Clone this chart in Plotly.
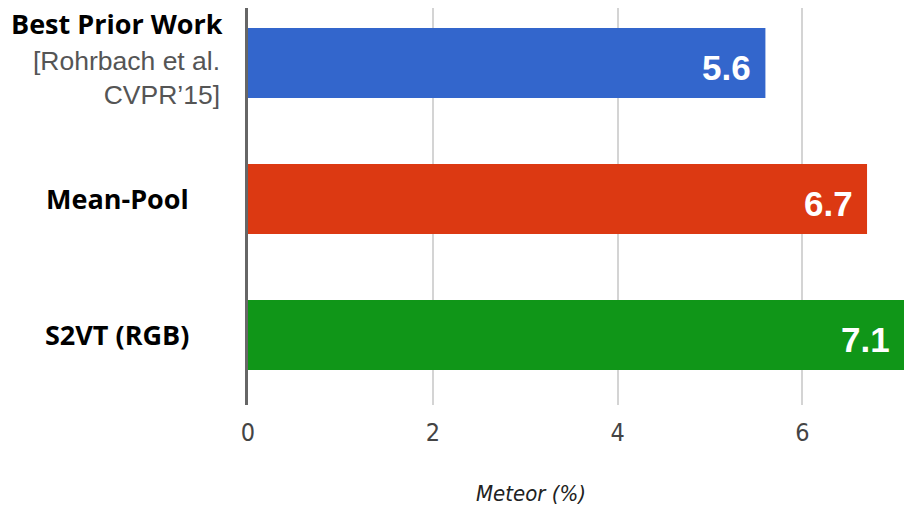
import plotly.graph_objects as go

# Meteor scores (%) for each captioning method
methods = ["Best Prior Work", "Mean-Pool", "S2VT (RGB)"]
meteor = [5.6, 6.7, 7.1]
bar_colors = ["#3366CC", "#DC3912", "#109618"]
x_ticks = [0, 2, 4, 6]
citation = "[Rohrbach et al.<br>CVPR’15]"

W, H = 904, 506
L, R, T, B = 248, 0, 8, 101
plot_w = W - L - R

NARROW = "Liberation Sans Narrow, Arial Narrow, DejaVu Sans Condensed, sans-serif"

fig = go.Figure()
fig.add_trace(go.Bar(
    y=methods,
    x=meteor,
    orientation="h",
    marker=dict(color=bar_colors, line=dict(width=0)),
    width=0.515,
    hoverinfo="x+y",
))

# value labels near the end of each bar
for m, v in zip(methods, meteor):
    fig.add_annotation(
        x=v, y=m, xref="x", yref="y",
        text=f"{v:.1f}", showarrow=False,
        xanchor="right", yanchor="middle",
        xshift=-12, yshift=-5,
        font=dict(family="Liberation Sans, Arial, sans-serif", size=35, color="white", weight="bold"),
    )

# category labels on the left
label_x = (117 - L) / plot_w
label_shift = {"Best Prior Work": 39, "Mean-Pool": 0, "S2VT (RGB)": 0}
for m in methods:
    fig.add_annotation(
        x=label_x, y=m, xref="paper", yref="y",
        text=m, showarrow=False,
        xanchor="center", yanchor="middle",
        yshift=label_shift[m],
        font=dict(family="Open Sans, sans-serif", size=27, color="black", weight="bold"),
    )

fig.add_annotation(
    x=(222 - L) / plot_w, y=methods[0], xref="paper", yref="y",
    text=citation, showarrow=False, align="right",
    xanchor="right", yanchor="middle", yshift=-15,
    font=dict(family="Liberation Sans, Arial, sans-serif", size=26.5, color="#555555"),
)

# axis title
fig.add_annotation(
    x=(531 - L) / plot_w, y=-(494 - (H - B)) / (H - T - B),
    xref="paper", yref="paper",
    text="<i>Meteor (%)</i>", showarrow=False,
    xanchor="center", yanchor="middle",
    font=dict(family=NARROW, size=22, color="#222222"),
)

fig.update_layout(
    width=W, height=H,
    margin=dict(l=L, r=R, t=T, b=B, pad=0),
    paper_bgcolor="white", plot_bgcolor="white",
    showlegend=False,
    bargap=0.485,
)
fig.update_xaxes(
    range=[0, 7.1],
    tickvals=x_ticks,
    ticktext=[str(t) for t in x_ticks],
    showgrid=True, gridcolor="#d4d4d4", gridwidth=1.5,
    zeroline=False, showline=False, ticks="",
    ticklabelstandoff=10,
    tickfont=dict(family=NARROW, size=25, color="#444444"),
)
fig.update_yaxes(
    categoryorder="array", categoryarray=methods,
    range=[2.515, -0.404],
    showticklabels=False, showgrid=False, zeroline=False,
    showline=True, linecolor="#666666", linewidth=2.5,
)

fig.write_html("out.html")
